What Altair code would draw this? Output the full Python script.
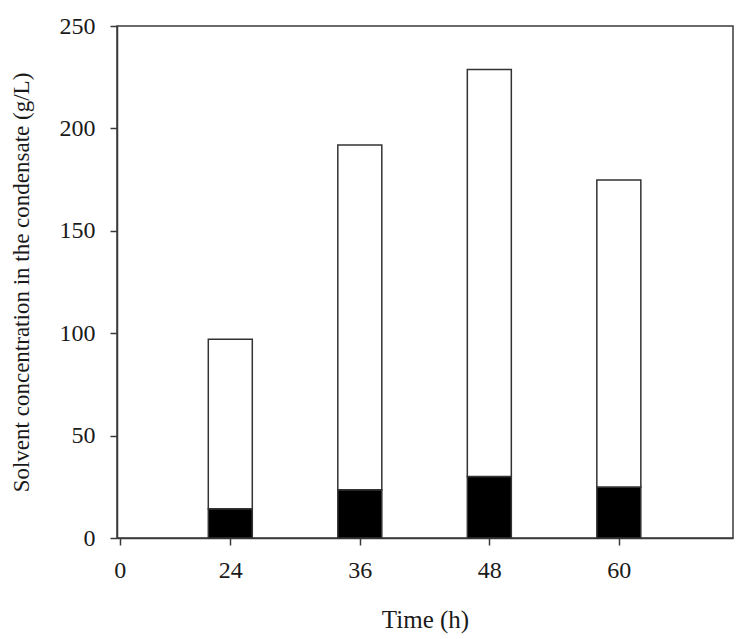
import altair as alt
import pandas as pd

# Values
times = [24, 36, 48, 60]
black_part = [14.3, 23.6, 30.0, 24.9]      # lower (filled) segment, g/L
white_part = [82.8, 168.3, 198.8, 149.9]   # upper (open) segment, g/L
x_ticks = [0, 24, 36, 48, 60]
y_ticks = [0, 50, 100, 150, 200, 250]

rows = []
for t, b, w in zip(times, black_part, white_part):
    rows.append({"time": t, "part": "lower", "order": 0, "value": b})
    rows.append({"time": t, "part": "upper", "order": 1, "value": w})
df = pd.DataFrame(rows)

FONT = "Liberation Serif"
W, H = 616, 512

chart = alt.Chart(df).mark_bar(size=44, stroke="#333333", strokeWidth=1.5).encode(
    x=alt.X(
        "time:Q",
        scale=alt.Scale(domain=[0, 24, 70], range=[0, 113.3, W]),
        axis=alt.Axis(
            values=x_ticks,
            title="Time (h)",
            grid=False,
            tickSize=7,
            labelPadding=13,
            titleY=89,
            titleFontSize=25,
            titleBaseline="alphabetic",
        ),
    ),
    y=alt.Y(
        "value:Q",
        stack="zero",
        scale=alt.Scale(domain=[0, 250], nice=False),
        axis=alt.Axis(
            values=y_ticks,
            title="Solvent concentration in the condensate (g/L)",
            grid=False,
            tickSize=7,
            labelPadding=15,
            titleX=-96,
            titleY=H / 2,
            titleFontSize=23,
            titleBaseline="middle",
        ),
    ),
    color=alt.Color(
        "part:N",
        scale=alt.Scale(domain=["lower", "upper"], range=["#000000", "#ffffff"]),
        legend=None,
    ),
    order=alt.Order("order:Q"),
).properties(
    width=W,
    height=H,
    autosize=alt.AutoSizeParams(type="none"),
    padding={"left": 109, "top": 18, "right": 5, "bottom": 100},
).configure_view(
    stroke="#3a3a3a", strokeWidth=1.5
).configure_axis(
    domainColor="#3a3a3a",
    domainWidth=1.5,
    tickColor="#3a3a3a",
    tickWidth=1.5,
    labelFont=FONT,
    labelFontSize=24,
    labelColor="#1a1a1a",
    titleFont=FONT,
    titleFontWeight="normal",
    titleColor="#1a1a1a",
)

chart.save("out.html", embed_options={"renderer": "svg", "actions": False})
